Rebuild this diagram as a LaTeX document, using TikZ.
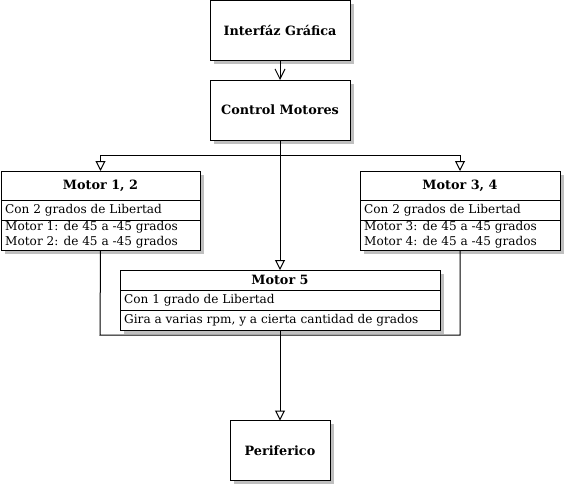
\documentclass[tikz,border=0pt]{standalone}
\usepackage{fontspec}
\setmainfont{DejaVu Serif}
\usetikzlibrary{arrows.meta,shadows}
\begin{document}
\begin{tikzpicture}[x=1pt,y=-1pt,
  box/.style={draw=black, line width=1pt, fill=white, inner sep=0pt, outer sep=0pt,
    general shadow={fill=black!25, shadow xshift=3.5pt, shadow yshift=-3.5pt}},
  title/.style={font=\fontsize{12.8}{15}\selectfont\bfseries, inner sep=0pt},
  row/.style={font=\fontsize{12.1}{15}\selectfont, inner sep=0pt, anchor=west},
  sep/.style={line width=1pt},
  con/.style={line width=1pt},
  tri/.style={con, -{Triangle[open, width=10pt, length=10pt, line width=1pt]}},
  vee/.style={con, -{Straight Barb[width=10pt, length=10pt, line width=1pt]}}
]
\useasboundingbox (0,0) rectangle (565,485);

% boxes
\node[box, minimum width=140pt, minimum height=60pt] (gui) at (280,30) {};
\node[title] at (gui.center) {Interfáz Gráfica};
\node[box, minimum width=140pt, minimum height=60pt] (ctrl) at (280,110) {};
\node[title] at (ctrl.center) {Control Motores};

\node[box, minimum width=199pt, minimum height=79pt] (m12) at (100.5,210.5) {};
\node[title] at (100.5,185.5) {Motor 1, 2};
\draw[sep] (1,200) -- (200,200);
\draw[sep] (1,220) -- (200,220);
\node[row] at (5,210) {Con 2 grados de Libertad};
\node[row, align=left] at (5,235) {Motor 1: de 45 a -45 grados\\Motor 2: de 45 a -45 grados};

\node[box, minimum width=200pt, minimum height=79pt] (m34) at (460,210.5) {};
\node[title] at (460,185.5) {Motor 3, 4};
\draw[sep] (360,200) -- (560,200);
\draw[sep] (360,220) -- (560,220);
\node[row] at (364,210) {Con 2 grados de Libertad};
\node[row, align=left] at (364,235) {Motor 3: de 45 a -45 grados\\Motor 4: de 45 a -45 grados};

% frame behind motor 5
\coordinate (fl) at (100,335);
\coordinate (fr) at (460,335);
\draw[con] (m12.south) -- (fl) -- (fr) -- (m34.south);

\node[box, minimum width=320pt, minimum height=60pt] (m5) at (280,300) {};
\node[title] at (280,280) {Motor 5};
\draw[sep] (120,290) -- (440,290);
\draw[sep] (120,310) -- (440,310);
\node[row] at (124,300) {Con 1 grado de Libertad};
\node[row] at (124,320) {Gira a varias rpm, y a cierta cantidad de grados};

\node[box, minimum width=100pt, minimum height=60pt] (per) at (280,450.5) {};
\node[title] at (per.center) {Periferico};

% connectors
\coordinate (fork) at (280,155);
\draw[vee] (gui.south) -- (ctrl.north);
\draw[con] (ctrl.south) -- (fork);
\draw[tri] (fork) -| (m12.north);
\draw[tri] (fork) -| (m34.north);
\draw[tri] (ctrl.south) -- (m5.north);
\draw[tri] (m5.south) -- (per.north);
\end{tikzpicture}
\end{document}
